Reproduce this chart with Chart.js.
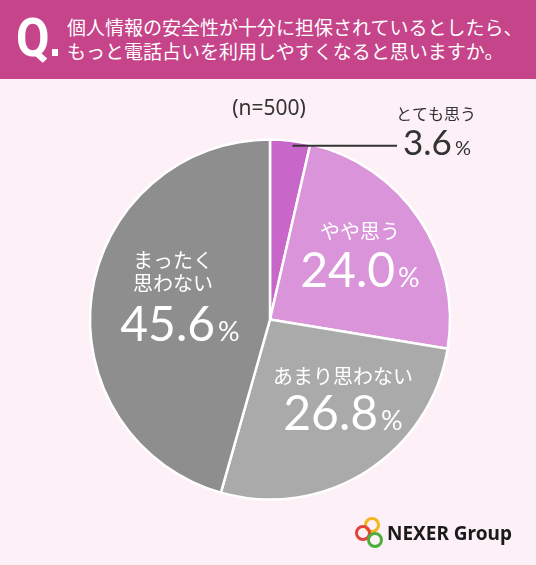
<!DOCTYPE html>
<html lang="ja">
<head>
<meta charset="utf-8">
<script src="https://cdn.jsdelivr.net/npm/chart.js@4/dist/chart.umd.min.js"></script>
<style>
  html, body { margin: 0; padding: 0; }
  body {
    width: 536px; height: 565px; overflow: hidden; position: relative;
    background: #fdf0f7;
    font-family: "Noto Sans CJK JP", "Noto Sans", sans-serif;
  }
  #chart { position: absolute; left: 0; top: 0; }
  .header {
    position: absolute; left: 0; top: 0; width: 536px; height: 79px;
    background: #c6448a; color: #fff;
  }
  .header .q {
    position: absolute; left: 16px; top: 11px;
    font-family: "Roboto", sans-serif; font-weight: 700; font-size: 54px; line-height: 1;
    transform: scaleX(0.9); transform-origin: left top;
  }
  .header .dot {
    position: absolute; left: 52px; top: 49px; width: 6px; height: 7px; background: #fff;
  }
  .header .text {
    position: absolute; left: 67px; top: 15px;
    font-size: 19px; line-height: 24px; white-space: nowrap;
  }
  .logo { position: absolute; left: 352px; top: 516px; }
</style>
</head>
<body>
<canvas id="chart" width="536" height="565"></canvas>
<div class="header">
  <div class="q">Q</div>
  <div class="dot"></div>
  <div class="text">個人情報の安全性が十分に担保されているとしたら、<br>もっと電話占いを利用しやすくなると思いますか。</div>
</div>
<svg class="logo" width="180" height="36" viewBox="0 0 180 36">
  <circle cx="20" cy="9" r="6.5" fill="none" stroke="#f2b51c" stroke-width="3"/>
  <circle cx="11" cy="17" r="6.5" fill="none" stroke="#e0443a" stroke-width="3"/>
  <circle cx="23" cy="24" r="6.5" fill="none" stroke="#4caf3c" stroke-width="3"/>
  <text x="35" y="24" font-family="Noto Sans, sans-serif" font-weight="700" font-size="19" fill="#1a1a1a">NEXER Group</text>
</svg>
<script>
const categories = ['とても思う', 'やや思う', 'あまり思わない', 'まったく思わない'];
const values = [3.6, 24.0, 26.8, 45.6];
const sliceColors = ['#c966c9', '#da94da', '#aaaaaa', '#8e8e8e'];
const sampleNote = '(n=500)';

// label text lines per slice (slice 0 uses the callout)
const labelLines = [
  ['とても思う'],
  ['やや思う'],
  ['あまり思わない'],
  ['まったく', '思わない']
];

// label anchors as offsets from the pie centre: [x, first line y, number y]
const labelAnchors = [
  null,
  [90, -88, -50],
  [73, 57, 93],
  [-97, -59, 4]
];

function drawNumber(ctx, x, y, value, bigSize, smallSize, color) {
  const num = value.toFixed(1);
  const face = 'px Lato, "Noto Sans", sans-serif';
  ctx.fillStyle = color;
  ctx.textBaseline = 'alphabetic';
  ctx.font = bigSize + face;
  const w1 = ctx.measureText(num).width;
  ctx.font = smallSize + face;
  const w2 = ctx.measureText('%').width;
  const gap = 3;
  const left = x - (w1 + gap + w2) / 2;
  const base = y + bigSize * 0.36;
  ctx.textAlign = 'left';
  ctx.font = bigSize + face;
  ctx.fillText(num, left, base);
  ctx.font = smallSize + face;
  ctx.fillText('%', left + w1 + gap, base);
}

const sliceLabels = {
  id: 'sliceLabels',
  afterDatasetsDraw(chart) {
    const ctx = chart.ctx;
    const meta = chart.getDatasetMeta(0);
    const cx = meta.data[0].x;
    const cy = meta.data[0].y;
    ctx.save();

    // sample size
    ctx.fillStyle = '#333';
    ctx.font = '21px "Noto Sans", sans-serif';
    ctx.textAlign = 'center';
    ctx.textBaseline = 'middle';
    ctx.fillText(sampleNote, cx - 1, cy - 210);

    // callout for the small slice
    const a0 = meta.data[0];
    const mid = (a0.startAngle + a0.endAngle) / 2;
    const r = a0.outerRadius * 0.96;
    const px = cx + Math.cos(mid) * r + 3;
    const py = cy + Math.sin(mid) * r - 2;
    ctx.strokeStyle = '#333';
    ctx.lineWidth = 2;
    ctx.beginPath();
    ctx.moveTo(px, py);
    ctx.lineTo(cx + 127, py);
    ctx.stroke();
    ctx.fillStyle = '#333';
    ctx.font = '16px "Noto Sans CJK JP", sans-serif';
    ctx.textAlign = 'center';
    ctx.fillText(labelLines[0][0], cx + 166, cy - 206);
    drawNumber(ctx, cx + 167, cy - 177, values[0], 35, 20, '#333');

    // labels inside slices
    for (let i = 1; i < values.length; i++) {
      const [dx, dy, ny] = labelAnchors[i];
      ctx.fillStyle = '#fff';
      ctx.font = '20px "Noto Sans CJK JP", sans-serif';
      ctx.textAlign = 'center';
      ctx.textBaseline = 'middle';
      labelLines[i].forEach((t, k) => {
        ctx.fillText(t, cx + dx, cy + dy + k * 23);
      });
      drawNumber(ctx, cx + dx + (i === 3 ? 7 : 0), cy + ny, values[i], 48, 27, '#fff');
    }
    ctx.restore();
  }
};

new Chart(document.getElementById('chart'), {
  type: 'pie',
  data: {
    labels: categories,
    datasets: [{
      data: values,
      backgroundColor: sliceColors,
      borderColor: '#ffffff',
      borderWidth: 2.5
    }]
  },
  options: {
    responsive: false,
    animation: false,
    radius: 180,
    layout: { padding: { left: 10, right: 6, top: 100, bottom: 26 } },
    plugins: {
      legend: { display: false },
      tooltip: { enabled: false }
    }
  },
  plugins: [sliceLabels]
});
</script>
</body>
</html>
